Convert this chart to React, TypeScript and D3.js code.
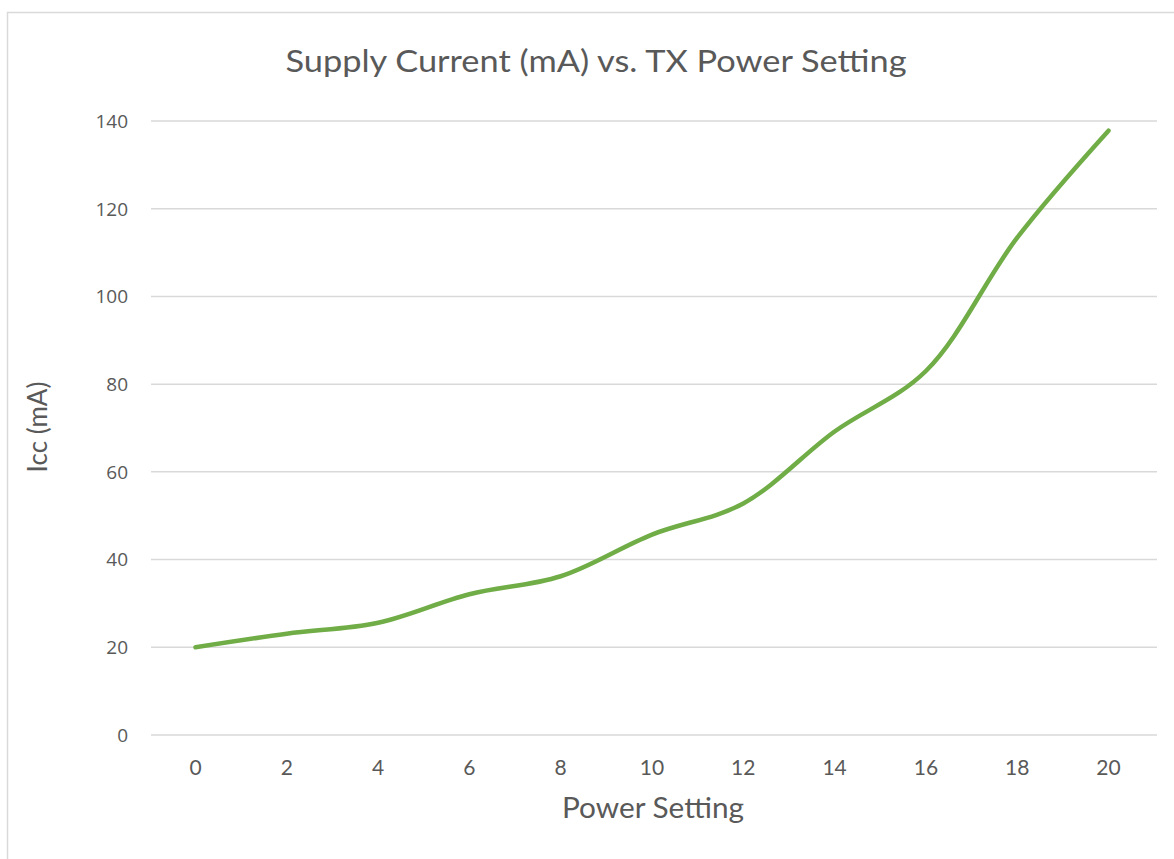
import React from "react";
import * as d3 from "d3";

const categories = ["0", "2", "4", "6", "8", "10", "12", "14", "16", "18", "20"];
const icc = [20, 23.1, 25.6, 32.1, 36.2, 45.7, 52.8, 69.2, 83, 113.4, 137.8];
const yTicks = [0, 20, 40, 60, 80, 100, 120, 140];

const W = 1174;
const H = 859;
const plotLeft = 151;
const plotRight = 1157;
const plotTop = 121;
const plotBottom = 735;

export default function App() {
  const x = d3.scalePoint<string>().domain(categories).range([195.5, 1108.5]).padding(0);
  const y = d3.scaleLinear().domain([0, 140]).range([plotBottom, plotTop]);
  const line = d3
    .line<number>()
    .x((_, i) => x(categories[i]) as number)
    .y((d) => y(d))
    .curve(d3.curveCatmullRom.alpha(0.5));

  const textColor = "#595959";
  return (
    <svg
      width={W}
      height={H}
      style={{ position: "absolute", left: 0, top: 0, background: "#fff" }}
    >
      <rect x={0} y={0} width={W} height={H} fill="#fff" />
      <rect x={7.5} y={12.5} width={1300} height={1000} fill="#fff" stroke="#D9D9D9" strokeWidth={1.5} />
      <text
        x={596}
        y={72}
        textAnchor="middle"
        fontFamily="Lato, 'Open Sans', sans-serif"
        fontSize={31}
        fill={textColor}
        textLength={621}
        lengthAdjust="spacingAndGlyphs"
      >
        Supply Current (mA) vs. TX Power Setting
      </text>
      {yTicks.map((t) => (
        <g key={t}>
          <line x1={plotLeft} x2={plotRight} y1={y(t)} y2={y(t)} stroke="#D9D9D9" strokeWidth={1.5} />
          <text
            x={128}
            y={y(t)}
            dy="0.36em"
            textAnchor="end"
            fontFamily="'Open Sans', sans-serif"
            fontSize={19}
            fill={textColor}
          >
            {t}
          </text>
        </g>
      ))}
      {categories.map((c) => (
        <text
          key={c}
          x={x(c)}
          y={775}
          textAnchor="middle"
          fontFamily="Lato, sans-serif"
          fontSize={21}
          fill={textColor}
        >
          {c}
        </text>
      ))}
      <path
        d={line(icc) || ""}
        fill="none"
        stroke="#70AD47"
        strokeWidth={4.5}
        strokeLinecap="round"
        strokeLinejoin="round"
      />
      <text
        transform="translate(47,427) rotate(-90)"
        textAnchor="middle"
        fontFamily="Lato, sans-serif"
        fontSize={26}
        fill={textColor}
      >
        Icc (mA)
      </text>
      <text
        x={653}
        y={818}
        textAnchor="middle"
        fontFamily="Lato, sans-serif"
        fontSize={28}
        fill={textColor}
        textLength={182}
        lengthAdjust="spacingAndGlyphs"
      >
        Power Setting
      </text>
    </svg>
  );
}
